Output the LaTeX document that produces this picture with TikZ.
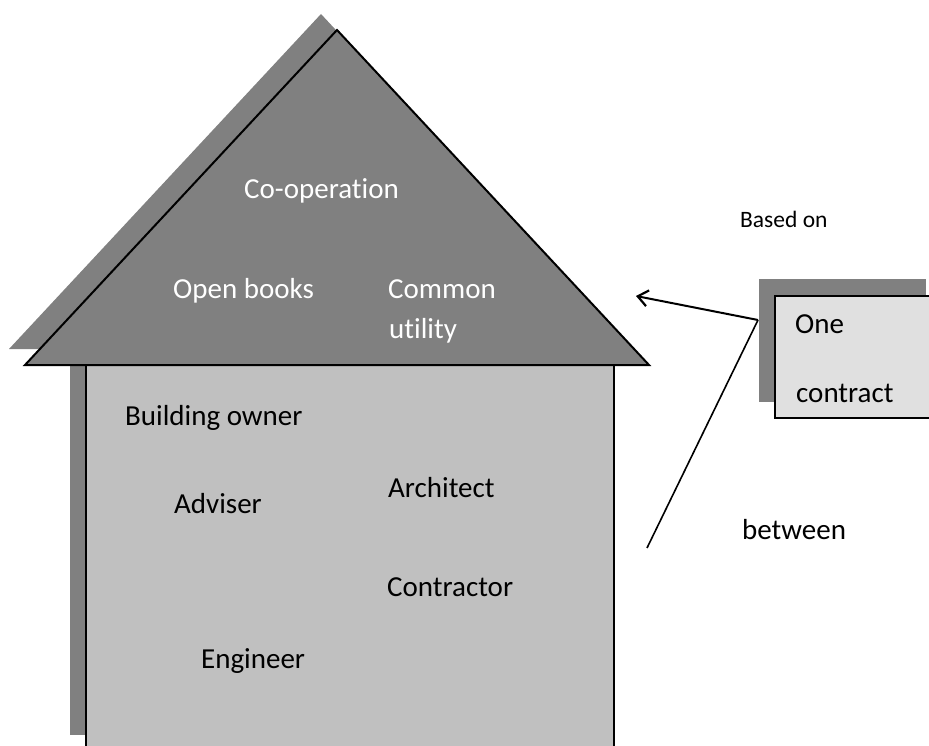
\documentclass[tikz,border=0pt]{standalone}
\usepackage{fontspec}
\setmainfont{Carlito}[Ligatures=NoCommon]
\usetikzlibrary{arrows.meta}
\definecolor{roofgray}{RGB}{128,128,128}
\definecolor{wallgray}{RGB}{192,192,192}
\definecolor{boxgray}{RGB}{224,224,224}
\begin{document}
\begin{tikzpicture}[x=1pt,y=-1pt,
  lbl/.style={anchor=base west,inner sep=0pt,font=\fontsize{29}{35}\selectfont},
  wlbl/.style={lbl,text=white},
  slbl/.style={lbl,font=\fontsize{23.5}{28}\selectfont},
  outline/.style={draw=black,line width=2pt,line join=miter},
  conn/.style={draw=black,line width=2pt}]
\useasboundingbox (0,0) rectangle (929,746);
\begin{scope}
  \clip (0,0) rectangle (929,746);
  % shadows of roof and wall
  \fill[roofgray] (9,349) -- (321,14) -- (633,349) -- cycle;
  \fill[roofgray] (70,349) rectangle (598,735);
  % wall
  \path[fill=wallgray,outline] (86,365) rectangle (614,752);
  % roof
  \path[fill=roofgray,outline] (25,365) -- (337,30) -- (649,365) -- cycle;
  % contract box
  \fill[roofgray] (759,279) rectangle (926,402);
  \path[fill=boxgray,outline] (775,296) rectangle (942,418);
\end{scope}
% roof texts
\node[wlbl] (coop) at (244,199) {Co-operation};
\node[wlbl] (open) at (173,298) {Open books};
\node[wlbl] (common) at (388,298) {Common};
\node[wlbl] (utility) at (389,338) {utility};
% wall texts
\node[lbl] (owner) at (125,425) {Building owner};
\node[lbl] (adviser) at (174,513) {Adviser};
\node[lbl] (architect) at (388,497) {Architect};
\node[lbl] (contractor) at (387,596) {Contractor};
\node[lbl] (engineer) at (201,668) {Engineer};
% right side texts
\node[slbl] (based) at (740,228) {Based on};
\node[lbl] (one) at (795,333) {One};
\node[lbl] (contract) at (796,402) {contract};
\node[lbl] (between) at (742,539) {between};
% connectors
\coordinate (junc) at (758,320);
\coordinate (tip) at (636,296);
\coordinate (foot) at (647,548);
\draw[conn,-{Straight Barb[length=10pt,width=16pt,line width=2.2pt]}] (junc) -- (tip);
\draw[conn,line width=1.6pt] (junc) -- (foot);
\end{tikzpicture}
\end{document}
